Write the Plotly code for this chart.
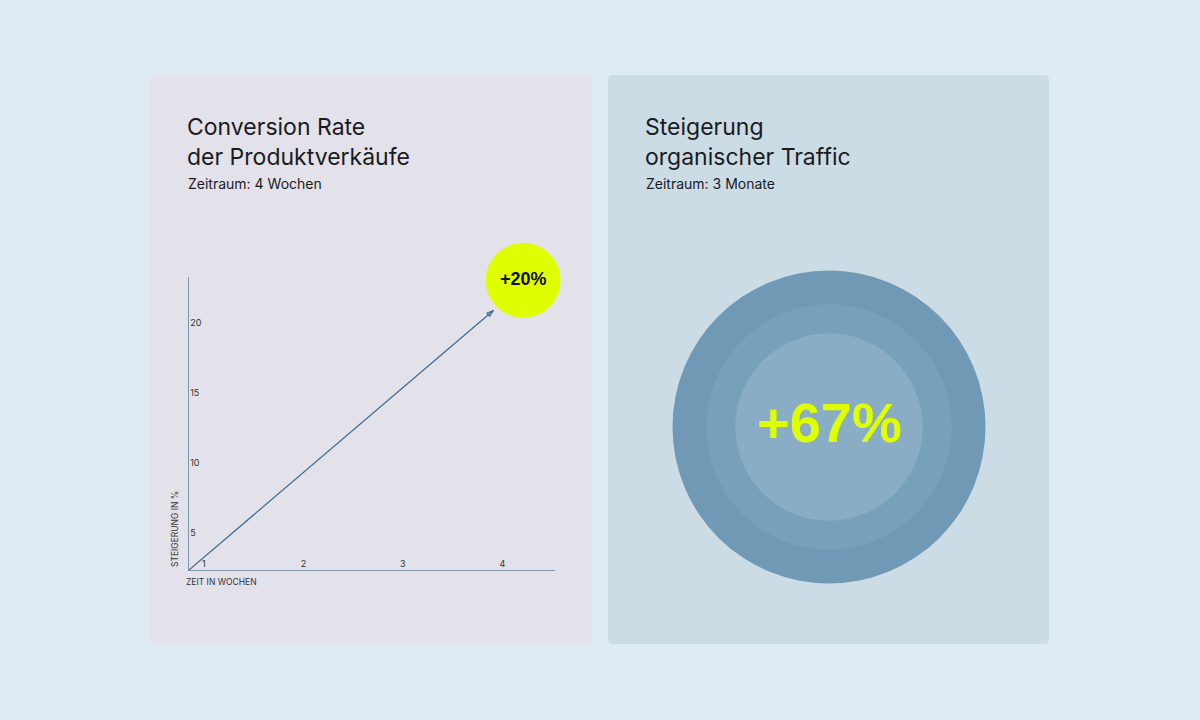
import plotly.graph_objects as go

# left card: conversion rate over 4 weeks
week_ticks = [1, 2, 3, 4]
pct_ticks = [5, 10, 15, 20]
trend_weeks = [0.85, 3.91]
trend_pct = [2.36, 20.9]
badge_week = [4.21]
badge_pct = [23.05]
badge_text = ["+20%"]

# right card: organic traffic index per month
months = ["Monat 1", "Monat 2", "Monat 3"]
traffic_index = [100, 131, 167]
traffic_text = "+67%"

W, H = 1200, 720
BG = "#dfebf2"
CARD_L = "#e3e1ea"
CARD_R = "#cbdce5"
LIME = "#dfff00"
INK = "#1b1b1f"
FONT = "Inter, Liberation Sans, sans-serif"


def px(x):
    return x / W


def py(y):
    return 1 - y / H


fig = go.Figure()

fig.add_trace(go.Scatter(
    x=trend_weeks, y=trend_pct, mode="lines+markers",
    line=dict(color="#3d6a8f", width=1.2),
    marker=dict(symbol=["circle", "arrow-open"], size=[0, 7],
                angleref="previous", color="#3d6a8f", opacity=1,
                line=dict(color="#3d6a8f", width=1.1)),
    hoverinfo="skip", showlegend=False, cliponaxis=False,
))

fig.add_trace(go.Scatter(
    x=badge_week, y=badge_pct, mode="markers+text",
    marker=dict(size=75, color=LIME, opacity=1, line=dict(width=0)),
    text=badge_text, textposition="middle center",
    textfont=dict(family="Liberation Sans, Arial, sans-serif", size=18,
                  color="#111111", weight="bold"),
    hoverinfo="skip", showlegend=False, cliponaxis=False,
))

# concentric rings, radius proportional to traffic index
ring_colors = ["#88adc4", "#77a0ba", "#6f99b4"]
for m, v, c in reversed(list(zip(months, traffic_index, ring_colors))):
    fig.add_trace(go.Scatter(
        x=[0], y=[0], mode="markers", name=m,
        marker=dict(size=[v], sizemode="diameter", sizeref=167 / 313,
                    color=c, opacity=1, line=dict(width=0)),
        xaxis="x2", yaxis="y2", hoverinfo="skip", showlegend=False,
        cliponaxis=False,
    ))

fig.add_annotation(x=0, y=0, xref="x2", yref="y2", text=traffic_text,
                   showarrow=False, yshift=5,
                   font=dict(family="Liberation Sans, Arial, sans-serif",
                             size=56, color=LIME, weight="bold"))

axis_col = "#7f97ad"
fig.update_layout(
    width=W, height=H,
    margin=dict(l=0, r=0, t=0, b=0),
    paper_bgcolor=BG, plot_bgcolor="rgba(0,0,0,0)",
    font=dict(family=FONT, color=INK),
    xaxis=dict(domain=[px(189), px(555)], range=[0.85, 4.53],
               tickvals=week_ticks, ticklabelposition="inside",
               showline=True, linecolor=axis_col, linewidth=1,
               showgrid=False, zeroline=False, ticks="",
               tickfont=dict(size=9, color="#333333"), fixedrange=True),
    yaxis=dict(domain=[py(570), py(277)], range=[2.36, 23.29],
               tickvals=pct_ticks, ticklabelposition="inside",
               showline=True, linecolor=axis_col, linewidth=1,
               showgrid=False, zeroline=False, ticks="",
               tickfont=dict(size=9, color="#333333"), fixedrange=True),
    xaxis2=dict(domain=[px(672), px(986)], range=[-1, 1], visible=False),
    yaxis2=dict(domain=[py(583), py(271)], range=[-1, 1], visible=False),
)


def card(x0, x1, y0, y1, color, r=5):
    # rounded rectangle in pixel units converted to paper coords
    path = (f"M {px(x0 + r)},{py(y0)} L {px(x1 - r)},{py(y0)} "
            f"Q {px(x1)},{py(y0)} {px(x1)},{py(y0 + r)} "
            f"L {px(x1)},{py(y1 - r)} Q {px(x1)},{py(y1)} {px(x1 - r)},{py(y1)} "
            f"L {px(x0 + r)},{py(y1)} Q {px(x0)},{py(y1)} {px(x0)},{py(y1 - r)} "
            f"L {px(x0)},{py(y0 + r)} Q {px(x0)},{py(y0)} {px(x0 + r)},{py(y0)} Z")
    fig.add_shape(type="path", path=path, xref="paper", yref="paper",
                  layer="below", fillcolor=color, line=dict(width=0))


card(150, 592, 75, 644, CARD_L)
card(608, 1049, 75, 644, CARD_R)


def note(x, y, text, size, **kw):
    fig.add_annotation(x=px(x), y=py(y), xref="paper", yref="paper",
                       text=text, showarrow=False, xanchor="left",
                       yanchor="top", align="left",
                       font=dict(size=size, color=INK, family=FONT), **kw)


note(185, 111, "Conversion Rate<br>der Produktverkäufe", 23)
note(186, 173, "Zeitraum: 4 Wochen", 14)
note(643, 111, "Steigerung<br>organischer Traffic", 23)
note(644, 173, "Zeitraum: 3 Monate", 14)

fig.add_annotation(x=px(184), y=py(575), xref="paper", yref="paper",
                   text="ZEIT IN WOCHEN", showarrow=False, xanchor="left",
                   yanchor="top", font=dict(size=8.5, color="#333333"))
fig.add_annotation(x=px(175), y=py(569), xref="paper", yref="paper",
                   text="STEIGERUNG IN %", showarrow=False, textangle=-90,
                   xanchor="center", yanchor="bottom",
                   font=dict(size=8.5, color="#333333"))

fig.write_html(
    "out.html",
    config=dict(displayModeBar=False),
    post_script=("document.body.style.margin='0';"
                 "document.body.style.background='" + BG + "';"),
)
